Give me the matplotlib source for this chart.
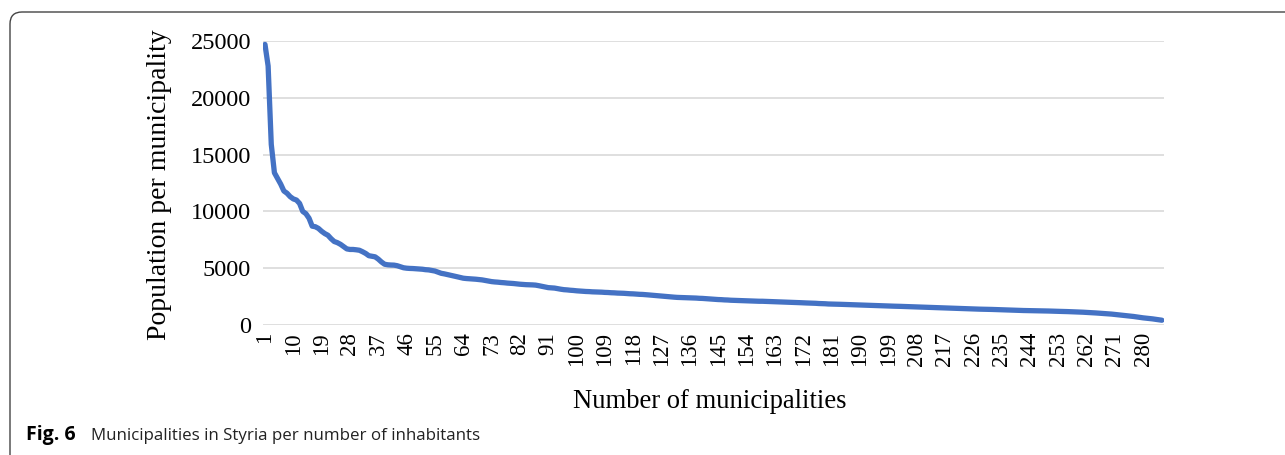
import numpy as np
import matplotlib
matplotlib.use("Agg")
import matplotlib.pyplot as plt
from matplotlib.patches import FancyBboxPatch

# population of each municipality, sorted descending
population = [
    24700, 22800, 15900, 13400, 12900, 12400, 11800, 11600, 11300, 11100,
    11000, 10700, 10000, 9800, 9400, 8700, 8650, 8500, 8250, 8050,
    7900, 7600, 7350, 7250, 7100, 6900, 6700, 6650, 6650, 6620,
    6580, 6450, 6300, 6100, 6050, 6000, 5800, 5550, 5350, 5300,
    5280, 5270, 5220, 5130, 5040, 5000, 4980, 4970, 4950, 4930,
    4910, 4870, 4850, 4800, 4750, 4650, 4550, 4500, 4440, 4380,
    4310, 4250, 4180, 4120, 4090, 4070, 4050, 4030, 4000, 3970,
    3920, 3870, 3820, 3790, 3770, 3740, 3720, 3690, 3670, 3650,
    3620, 3590, 3570, 3550, 3540, 3530, 3510, 3460, 3400, 3330,
    3290, 3270, 3250, 3200, 3150, 3110, 3090, 3060, 3040, 3010,
    2990, 2965, 2950, 2940, 2920, 2910, 2900, 2890, 2870, 2860,
    2840, 2830, 2810, 2800, 2790, 2770, 2750, 2740, 2720, 2700,
    2690, 2670, 2645, 2620, 2600, 2570, 2550, 2520, 2500, 2470,
    2450, 2430, 2420, 2410, 2400, 2390, 2380, 2370, 2350, 2340,
    2320, 2300, 2280, 2260, 2240, 2230, 2210, 2200, 2180, 2170,
    2160, 2150, 2140, 2130, 2120, 2110, 2100, 2090, 2090, 2080,
    2070, 2065, 2050, 2040, 2030, 2020, 2010, 2000, 1990, 1980,
    1965, 1950, 1940, 1930, 1920, 1910, 1890, 1880, 1870, 1850,
    1840, 1835, 1830, 1820, 1810, 1800, 1790, 1780, 1770, 1760,
    1750, 1740, 1730, 1720, 1710, 1700, 1690, 1680, 1670, 1660,
    1655, 1650, 1640, 1630, 1620, 1610, 1600, 1590, 1580, 1570,
    1560, 1550, 1540, 1530, 1520, 1510, 1500, 1490, 1480, 1470,
    1460, 1450, 1440, 1430, 1420, 1410, 1400, 1395, 1390, 1380,
    1375, 1370, 1360, 1350, 1340, 1330, 1320, 1310, 1300, 1290,
    1280, 1275, 1270, 1265, 1260, 1255, 1250, 1250, 1240, 1230,
    1220, 1210, 1200, 1195, 1190, 1180, 1170, 1160, 1150, 1140,
    1125, 1110, 1095, 1080, 1060, 1040, 1020, 1000, 980, 960,
    930, 900, 870, 840, 810, 780, 750, 710, 670, 630,
    600, 570, 540, 500, 460, 420,
]
municipality = np.arange(1, len(population) + 1)
xtick_values = list(range(1, len(population) + 1, 9))
ytick_values = [0, 5000, 10000, 15000, 20000, 25000]

plt.rcParams["font.family"] = ["Liberation Serif", "DejaVu Serif"]

fig = plt.figure(figsize=(12.85, 4.55), dpi=100)
ax = fig.add_axes([263.4 / 1285, 1 - 325 / 455, 900.1 / 1285, 284 / 455])

ax.plot(municipality, population, color="#4472C4", lw=3.8,
        solid_capstyle="round", solid_joinstyle="round", zorder=3)

ax.set_xlim(0.5, len(population) + 0.5)
ax.set_ylim(0, 25000)
ax.set_yticks(ytick_values)
ax.set_xticks(xtick_values)
ax.set_xticklabels([str(v) for v in xtick_values], rotation=90)
ax.tick_params(axis="both", length=0, labelsize=16.5, colors="black")
ax.tick_params(axis="y", labelsize=17.5, pad=9)
ax.tick_params(axis="x", pad=5)
ax.grid(axis="y", color="#d9d9d9", lw=1.2)
ax.set_axisbelow(True)
for s in ax.spines.values():
    s.set_visible(False)

fig.text(159 / 1285, 1 - 185 / 455, "Population per municipality",
         rotation=90, ha="center", va="center", fontsize=20)
fig.text(710 / 1285, 1 - 402 / 455, "Number of municipalities",
         ha="center", va="center", fontsize=19.2)

# caption
fig.text(26 / 1285, 1 - 440 / 455, "Fig. 6", fontsize=14, fontweight="bold",
         family=["Open Sans", "DejaVu Sans"], va="baseline")
fig.text(91 / 1285, 1 - 440 / 455,
         "Municipalities in Styria per number of inhabitants", fontsize=12.2,
         family=["Open Sans", "DejaVu Sans"], va="baseline", color="#222222")

# rounded frame around the figure
frame = FancyBboxPatch((0.1, -0.3), 13.2, 4.43 + 0.3,
                       boxstyle="round,pad=0,rounding_size=0.12",
                       transform=fig.dpi_scale_trans, fill=False,
                       edgecolor="#444444", lw=1.0)
fig.patches.append(frame)

fig.savefig("out.png", dpi=100)
